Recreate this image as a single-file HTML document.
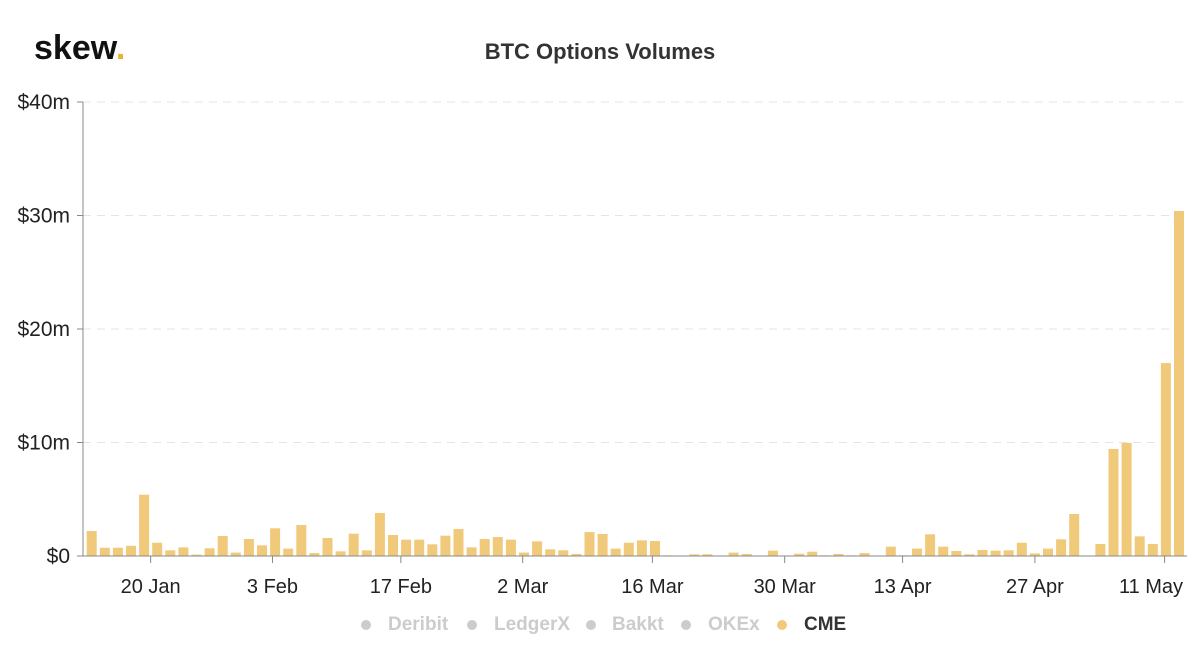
<!DOCTYPE html>
<html><head><meta charset="utf-8"><style>
body{margin:0;background:#fff;font-family:"Liberation Sans",sans-serif;}
svg{display:block}
</style></head><body>
<svg id="chart" width="1200" height="670">
  <text x="34" y="59" font-size="34" font-weight="bold" fill="#111">skew<tspan fill="#e8b23a">.</tspan></text>
  <text x="600" y="59" text-anchor="middle" font-size="22" font-weight="bold" fill="#333">BTC Options Volumes</text>
  <g id="grid"></g><g id="bars"></g><g id="axes"></g>
  <g font-size="19" font-weight="bold">
    <g><circle cx="366" cy="625" r="5" fill="#ccc"/><text x="388" y="630" fill="#ccc">Deribit</text></g>
    <g><circle cx="472" cy="625" r="5" fill="#ccc"/><text x="494" y="630" fill="#ccc">LedgerX</text></g>
    <g><circle cx="591" cy="625" r="5" fill="#ccc"/><text x="612" y="630" fill="#ccc">Bakkt</text></g>
    <g><circle cx="686" cy="625" r="5" fill="#ccc"/><text x="708" y="630" fill="#ccc">OKEx</text></g>
    <g><circle cx="782" cy="625" r="5" fill="#f1c97a"/><text x="804" y="630" fill="#333">CME</text></g>
  </g>
</svg>
<script>
const cmeVolumes=[2.2,0.73,0.73,0.9,5.4,1.17,0.5,0.76,0.12,0.68,1.76,0.3,1.5,0.94,2.44,0.65,2.73,0.26,1.59,0.41,1.97,0.5,3.79,1.85,1.44,1.44,1.03,1.79,2.38,
0.76,1.5,1.67,1.44,0.3,1.29,0.59,0.5,0.18,2.11,1.94,0.65,1.17,1.38,1.32,0.06,0,0.15,0.15,0,0.3,0.18,0,0.47,0.03,0.2,0.38,
0.06,0.18,0.06,0.26,0,0.82,0.06,0.65,1.91,0.82,0.44,0.15,0.53,0.47,0.5,1.17,0.23,0.65,1.47,3.7,0,1.06,9.43,9.96,1.73,1.06,17.0,30.4];
const yTicks=[0,10,20,30,40];
const yTickLabels=["$0","$10m","$20m","$30m","$40m"];
const xTickLabels=["20 Jan","3 Feb","17 Feb","2 Mar","16 Mar","30 Mar","13 Apr","27 Apr","11 May"];
const xTickIndex=[4.5,13.8,23.6,32.9,42.8,52.9,61.9,72.0,81.9];
const NS="http://www.w3.org/2000/svg";
const L=83,R=1187,T=102,B=556,step=13.1,bw=10,x0=86.7;
const y=v=>B-(v/40)*(B-T);
const xc=i=>x0+bw/2+i*step;
function mk(t,a,p){const e=document.createElementNS(NS,t);for(const k in a)e.setAttribute(k,a[k]);p.appendChild(e);return e;}
const grid=document.getElementById('grid'),axes=document.getElementById('axes'),bars=document.getElementById('bars');
yTicks.forEach((v,k)=>{
  if(v>0){const g=mk('line',{x1:L,x2:R,y1:y(v),y2:y(v),stroke:'#e4e4e4','stroke-dasharray':'8,6'},grid);
  
  }
  const tk=mk('line',{x1:L-6,x2:L,y1:y(v),y2:y(v),stroke:'#888'},axes);
  
  
  const t=mk('text',{x:70,y:y(v)+7,'text-anchor':'end','font-size':21,fill:'#222'},axes);
  t.textContent=yTickLabels[k];
  
  
});
cmeVolumes.forEach((v,i)=>{
  const r=mk('rect',{x:xc(i)-bw/2,y:y(v),width:bw,height:B-y(v),fill:'#f1c97a'},bars);
  
  
});
const ya=mk('line',{x1:L,x2:L,y1:T,y2:B,stroke:'#888'},axes);


const xa=mk('line',{x1:L,x2:R,y1:B,y2:B,stroke:'#888'},axes);


xTickLabels.forEach((s,k)=>{
  const x=xc(xTickIndex[k]);
  const tk=mk('line',{x1:x,x2:x,y1:B,y2:B+7,stroke:'#888'},axes);
  
  
  const lx=k===xTickLabels.length-1?1151:x;
  const t=mk('text',{x:lx,y:B+37,'text-anchor':'middle','font-size':20,fill:'#222'},axes);
  t.textContent=s;
  
  
});
</script>
</body></html>
